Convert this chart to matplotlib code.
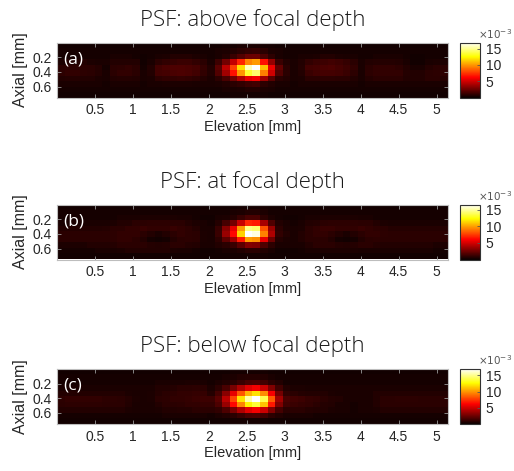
import numpy as np
import matplotlib.pyplot as plt

# PSF amplitude maps in units of 1e-4 (rows: axial, top to bottom; columns: elevation)
psfAbove = np.array([
    [2, 2, 2, 2, 2, 2, 2, 2, 2, 2, 2, 2, 2, 2, 2, 2, 2, 2, 2, 2, 2, 2, 3, 3, 4, 4, 4, 3, 3, 2, 2, 2, 2, 2, 2, 2, 2, 2, 2, 2, 2, 2, 2, 2, 2, 2, 2, 2, 2, 2, 2, 2],
    [3, 3, 3, 3, 3, 3, 3, 3, 3, 3, 3, 3, 3, 3, 3, 3, 3, 3, 3, 3, 3, 4, 5, 6, 8, 10, 11, 8, 5, 4, 3, 3, 3, 3, 3, 3, 3, 3, 3, 3, 3, 3, 3, 3, 3, 3, 3, 3, 3, 3, 3, 3],
    [3, 3, 3, 3, 3, 3, 3, 4, 4, 4, 3, 2, 3, 4, 5, 6, 6, 6, 5, 4, 3, 4, 7, 12, 18, 24, 25, 17, 9, 4, 3, 3, 4, 4, 5, 6, 6, 5, 4, 4, 3, 3, 4, 4, 4, 4, 3, 2, 2, 3, 3, 3],
    [5, 6, 6, 6, 5, 4, 4, 6, 6, 6, 6, 2, 4, 8, 10, 11, 12, 12, 10, 8, 4, 13, 27, 47, 71, 95, 101, 66, 35, 12, 6, 4, 6, 10, 12, 13, 14, 13, 11, 8, 4, 6, 7, 7, 7, 6, 4, 2, 2, 4, 5, 5],
    [8, 9, 9, 8, 8, 7, 3, 8, 9, 10, 8, 3, 6, 14, 16, 17, 17, 16, 15, 11, 6, 20, 45, 78, 118, 158, 169, 110, 58, 22, 8, 4, 7, 14, 15, 16, 17, 15, 13, 10, 4, 8, 10, 10, 10, 9, 6, 4, 4, 7, 8, 8],
    [9, 10, 10, 9, 8, 7, 4, 8, 10, 10, 8, 4, 6, 14, 15, 16, 17, 16, 14, 10, 6, 18, 38, 66, 100, 134, 144, 94, 50, 18, 8, 4, 6, 12, 14, 15, 15, 14, 12, 9, 4, 9, 10, 10, 10, 10, 7, 6, 6, 8, 9, 9],
    [6, 7, 7, 6, 6, 5, 4, 6, 7, 7, 6, 4, 5, 9, 10, 10, 11, 10, 9, 7, 5, 9, 16, 27, 41, 55, 59, 38, 20, 8, 6, 4, 5, 8, 8, 9, 9, 8, 8, 6, 4, 7, 8, 8, 8, 8, 6, 6, 6, 8, 8, 7],
    [4, 4, 4, 4, 4, 4, 3, 4, 4, 4, 4, 3, 4, 4, 5, 5, 5, 5, 4, 4, 4, 5, 6, 8, 10, 13, 14, 9, 6, 4, 4, 3, 4, 4, 4, 4, 4, 4, 4, 4, 3, 4, 4, 4, 4, 4, 4, 4, 4, 4, 4, 4],
    [3, 3, 3, 3, 3, 3, 3, 3, 3, 3, 3, 3, 3, 3, 3, 3, 3, 3, 3, 3, 3, 3, 4, 4, 5, 6, 6, 5, 4, 3, 3, 3, 3, 3, 3, 3, 3, 3, 3, 3, 3, 3, 3, 3, 3, 3, 3, 3, 3, 3, 3, 3],
    [2, 2, 2, 2, 2, 2, 2, 2, 2, 2, 2, 2, 2, 2, 2, 2, 2, 2, 2, 2, 2, 2, 2, 3, 3, 3, 3, 3, 2, 2, 2, 2, 2, 2, 2, 2, 2, 2, 2, 2, 2, 2, 2, 2, 2, 2, 2, 2, 2, 2, 2, 2],
])

psfAt = np.array([
    [2, 2, 2, 2, 2, 2, 2, 2, 2, 2, 2, 2, 2, 2, 2, 2, 2, 2, 2, 2, 2, 2, 2, 2, 3, 3, 3, 3, 2, 2, 2, 2, 2, 2, 2, 2, 2, 2, 2, 2, 2, 2, 2, 2, 2, 2, 2, 2, 2, 2, 2, 2],
    [3, 3, 3, 3, 3, 3, 3, 3, 3, 3, 3, 3, 3, 3, 3, 3, 3, 3, 3, 3, 3, 3, 3, 4, 5, 6, 6, 5, 3, 3, 3, 3, 3, 3, 3, 3, 3, 3, 3, 3, 3, 3, 3, 3, 3, 3, 3, 3, 3, 3, 3, 3],
    [3, 3, 3, 3, 3, 3, 3, 3, 4, 4, 4, 5, 5, 5, 5, 5, 4, 4, 3, 2, 2, 4, 5, 7, 11, 16, 16, 9, 5, 3, 2, 2, 3, 4, 4, 5, 5, 5, 5, 5, 4, 4, 3, 3, 3, 3, 3, 3, 3, 3, 3, 3],
    [4, 4, 4, 4, 4, 4, 4, 5, 6, 6, 8, 8, 9, 9, 9, 8, 8, 6, 5, 4, 3, 7, 15, 26, 47, 69, 67, 39, 17, 6, 4, 3, 4, 6, 7, 8, 9, 9, 9, 9, 8, 8, 6, 5, 4, 4, 4, 4, 4, 4, 4, 4],
    [6, 6, 6, 6, 6, 6, 7, 8, 8, 10, 10, 11, 10, 10, 10, 11, 10, 9, 7, 4, 4, 11, 31, 55, 98, 145, 141, 81, 35, 9, 5, 4, 5, 8, 10, 11, 11, 10, 10, 10, 11, 10, 9, 8, 7, 7, 7, 7, 7, 7, 7, 7],
    [8, 8, 8, 8, 8, 8, 8, 9, 10, 10, 10, 8, 6, 4, 6, 8, 10, 9, 8, 5, 4, 12, 35, 62, 112, 165, 160, 92, 40, 10, 6, 4, 6, 8, 10, 10, 8, 6, 4, 6, 8, 10, 10, 9, 8, 8, 8, 8, 8, 8, 8, 8],
    [8, 8, 8, 8, 8, 8, 8, 9, 10, 10, 8, 6, 3, 2, 3, 6, 8, 9, 8, 5, 4, 9, 21, 37, 67, 99, 96, 55, 24, 7, 5, 4, 6, 8, 8, 8, 6, 3, 2, 3, 6, 8, 9, 8, 8, 8, 8, 8, 8, 8, 8, 8],
    [5, 5, 5, 5, 6, 6, 6, 7, 8, 8, 8, 8, 7, 6, 7, 8, 8, 7, 6, 4, 4, 6, 8, 12, 20, 30, 29, 17, 9, 4, 4, 4, 4, 6, 8, 8, 8, 7, 6, 7, 8, 8, 7, 6, 6, 6, 6, 6, 6, 6, 5, 5],
    [3, 3, 3, 3, 3, 4, 4, 4, 5, 6, 6, 6, 6, 6, 6, 5, 4, 4, 3, 2, 2, 3, 4, 5, 6, 8, 8, 6, 4, 2, 2, 2, 3, 4, 4, 5, 5, 5, 5, 5, 4, 4, 4, 4, 4, 4, 4, 4, 4, 4, 3, 3],
    [2, 2, 2, 2, 2, 2, 2, 2, 2, 2, 2, 2, 2, 2, 2, 2, 2, 2, 2, 2, 2, 2, 2, 3, 3, 3, 3, 3, 2, 2, 2, 2, 2, 2, 2, 2, 2, 2, 2, 2, 2, 2, 2, 2, 2, 2, 2, 2, 2, 2, 2, 2],
])

psfBelow = np.array([
    [2, 2, 2, 2, 2, 2, 2, 2, 2, 2, 2, 2, 2, 2, 2, 2, 2, 2, 2, 2, 2, 2, 2, 3, 3, 3, 3, 3, 2, 2, 2, 2, 2, 2, 2, 2, 2, 2, 2, 2, 2, 2, 2, 2, 2, 2, 2, 2, 2, 2, 2, 2],
    [3, 3, 3, 3, 3, 3, 3, 3, 3, 3, 3, 3, 3, 3, 3, 3, 3, 3, 3, 3, 3, 3, 4, 5, 6, 7, 7, 6, 4, 3, 3, 3, 3, 3, 3, 3, 3, 3, 3, 3, 3, 3, 3, 3, 3, 3, 3, 3, 3, 3, 3, 3],
    [3, 3, 3, 3, 3, 3, 3, 3, 3, 3, 3, 3, 3, 4, 4, 4, 4, 5, 5, 4, 3, 5, 6, 8, 12, 16, 17, 14, 9, 6, 3, 3, 3, 3, 3, 3, 3, 3, 3, 3, 3, 3, 3, 3, 3, 3, 3, 3, 3, 3, 3, 3],
    [4, 4, 4, 4, 4, 4, 4, 4, 4, 4, 4, 4, 4, 6, 6, 7, 8, 8, 9, 8, 5, 9, 16, 28, 42, 54, 60, 49, 30, 14, 6, 5, 5, 4, 4, 4, 4, 4, 4, 4, 4, 4, 4, 4, 4, 4, 4, 4, 4, 4, 4, 4],
    [6, 6, 6, 6, 6, 6, 6, 6, 6, 5, 4, 4, 5, 7, 8, 9, 10, 10, 11, 11, 7, 15, 32, 56, 84, 108, 119, 98, 60, 27, 10, 8, 7, 6, 6, 6, 5, 4, 4, 4, 4, 4, 6, 6, 6, 6, 6, 6, 6, 6, 6, 6],
    [9, 10, 10, 10, 10, 10, 9, 9, 8, 7, 5, 4, 5, 8, 9, 10, 10, 11, 12, 13, 13, 20, 45, 80, 120, 155, 170, 140, 85, 38, 16, 14, 13, 11, 10, 8, 7, 6, 4, 4, 4, 4, 6, 8, 8, 9, 9, 9, 8, 8, 8, 8],
    [8, 9, 9, 9, 9, 9, 8, 8, 8, 6, 4, 4, 4, 6, 8, 8, 9, 10, 10, 11, 11, 17, 36, 64, 96, 124, 136, 112, 68, 30, 14, 12, 11, 10, 8, 7, 6, 4, 4, 3, 4, 4, 6, 8, 8, 8, 8, 8, 8, 8, 8, 8],
    [6, 6, 6, 6, 6, 6, 6, 6, 6, 5, 4, 4, 4, 5, 6, 6, 7, 7, 8, 8, 8, 10, 17, 28, 42, 54, 60, 49, 30, 15, 8, 8, 8, 7, 6, 6, 5, 4, 4, 3, 4, 4, 5, 6, 6, 6, 6, 6, 6, 6, 6, 6],
    [3, 3, 3, 3, 3, 3, 3, 3, 3, 3, 3, 3, 3, 3, 4, 4, 4, 4, 4, 4, 3, 5, 6, 8, 12, 16, 17, 14, 9, 6, 4, 4, 4, 4, 3, 3, 3, 3, 3, 3, 3, 3, 3, 3, 3, 3, 3, 3, 3, 3, 3, 3],
    [2, 2, 2, 2, 2, 2, 2, 2, 2, 2, 2, 2, 2, 2, 2, 2, 2, 2, 2, 2, 2, 2, 2, 3, 3, 3, 3, 3, 2, 2, 2, 2, 2, 2, 2, 2, 2, 2, 2, 2, 2, 2, 2, 2, 2, 2, 2, 2, 2, 2, 2, 2],
])

titles = ['PSF: above focal depth', 'PSF: at focal depth', 'PSF: below focal depth']
panelLabels = ['(a)', '(b)', '(c)']
elevationTicks = [0.5, 1, 1.5, 2, 2.5, 3, 3.5, 4, 4.5, 5]
elevationTickLabels = ['0.5', '1', '1.5', '2', '2.5', '3', '3.5', '4', '4.5', '5']
axialTicks = [0.2, 0.4, 0.6]
axialTickLabels = ['0.2', '0.4', '0.6']
colorbarTicks = [5, 10, 15]  # x 1e-3
elevationExtent = [0.0, 5.15]  # mm
axialExtent = [0.0, 0.75]  # mm

textColor = '#262626'
fontFamily = ['Liberation Sans', 'DejaVu Sans']


def plotPanel(fig, top, data, title, label):
    W, H = 514.0, 471.0
    height = 55.0
    ax = fig.add_axes([57 / W, 1 - (top + height) / H, 391 / W, height / H])
    values = data * 1e-4
    im = ax.imshow(values, cmap='hot', vmin=0, vmax=values.max(),
                   extent=[elevationExtent[0], elevationExtent[1], axialExtent[1], axialExtent[0]],
                   aspect='auto', interpolation='nearest')

    ax.set_xticks(elevationTicks)
    ax.set_xticklabels(elevationTickLabels)
    ax.set_yticks(axialTicks)
    ax.set_yticklabels(axialTickLabels)
    ax.tick_params(direction='in', length=3, width=0.6, color='#9a9a9a',
                   top=True, right=True, labelsize=10, labelcolor=textColor, pad=4)
    for tl in ax.get_xticklabels() + ax.get_yticklabels():
        tl.set_family(fontFamily)
    for spine in ax.spines.values():
        spine.set_color('#bdbdbd')
        spine.set_linewidth(0.8)

    ax.set_xlabel('Elevation [mm]', fontsize=10.5, color=textColor, family=fontFamily, labelpad=2)
    ax.set_ylabel('Axial [mm]', fontsize=11.5, color=textColor, family=fontFamily, labelpad=3)
    ax.set_title(title, fontsize=16, color='#1a1a1a', family=['Open Sans', 'DejaVu Sans'],
                 fontweight='light', pad=12)
    ax.text(0.015, 0.70, label, transform=ax.transAxes, color='white', fontsize=12.5,
            family=['Open Sans', 'DejaVu Sans'], va='center', ha='left')

    cax = fig.add_axes([460 / W, 1 - (top + height) / H, 20 / W, height / H])
    cb = fig.colorbar(im, cax=cax, ticks=[t * 1e-3 for t in colorbarTicks])
    cb.ax.set_yticklabels([str(t) for t in colorbarTicks])
    cb.ax.tick_params(direction='in', length=2, width=0.6, color='#555555',
                      labelsize=10, labelcolor=textColor, pad=4)
    for tl in cb.ax.get_yticklabels():
        tl.set_family(fontFamily)
    cb.outline.set_edgecolor('#333333')
    cb.outline.set_linewidth(0.8)
    cb.ax.text(0.9, 1.03, r'$\times10^{-3}$', transform=cb.ax.transAxes,
               fontsize=7.5, color='#555555', ha='left', va='bottom')


fig = plt.figure(figsize=(5.14, 4.71), dpi=100)
for top, data, title, label in zip([42.5, 204.5, 369.0], [psfAbove, psfAt, psfBelow], titles, panelLabels):
    plotPanel(fig, top, data, title, label)

fig.savefig('out.png', dpi=100)
